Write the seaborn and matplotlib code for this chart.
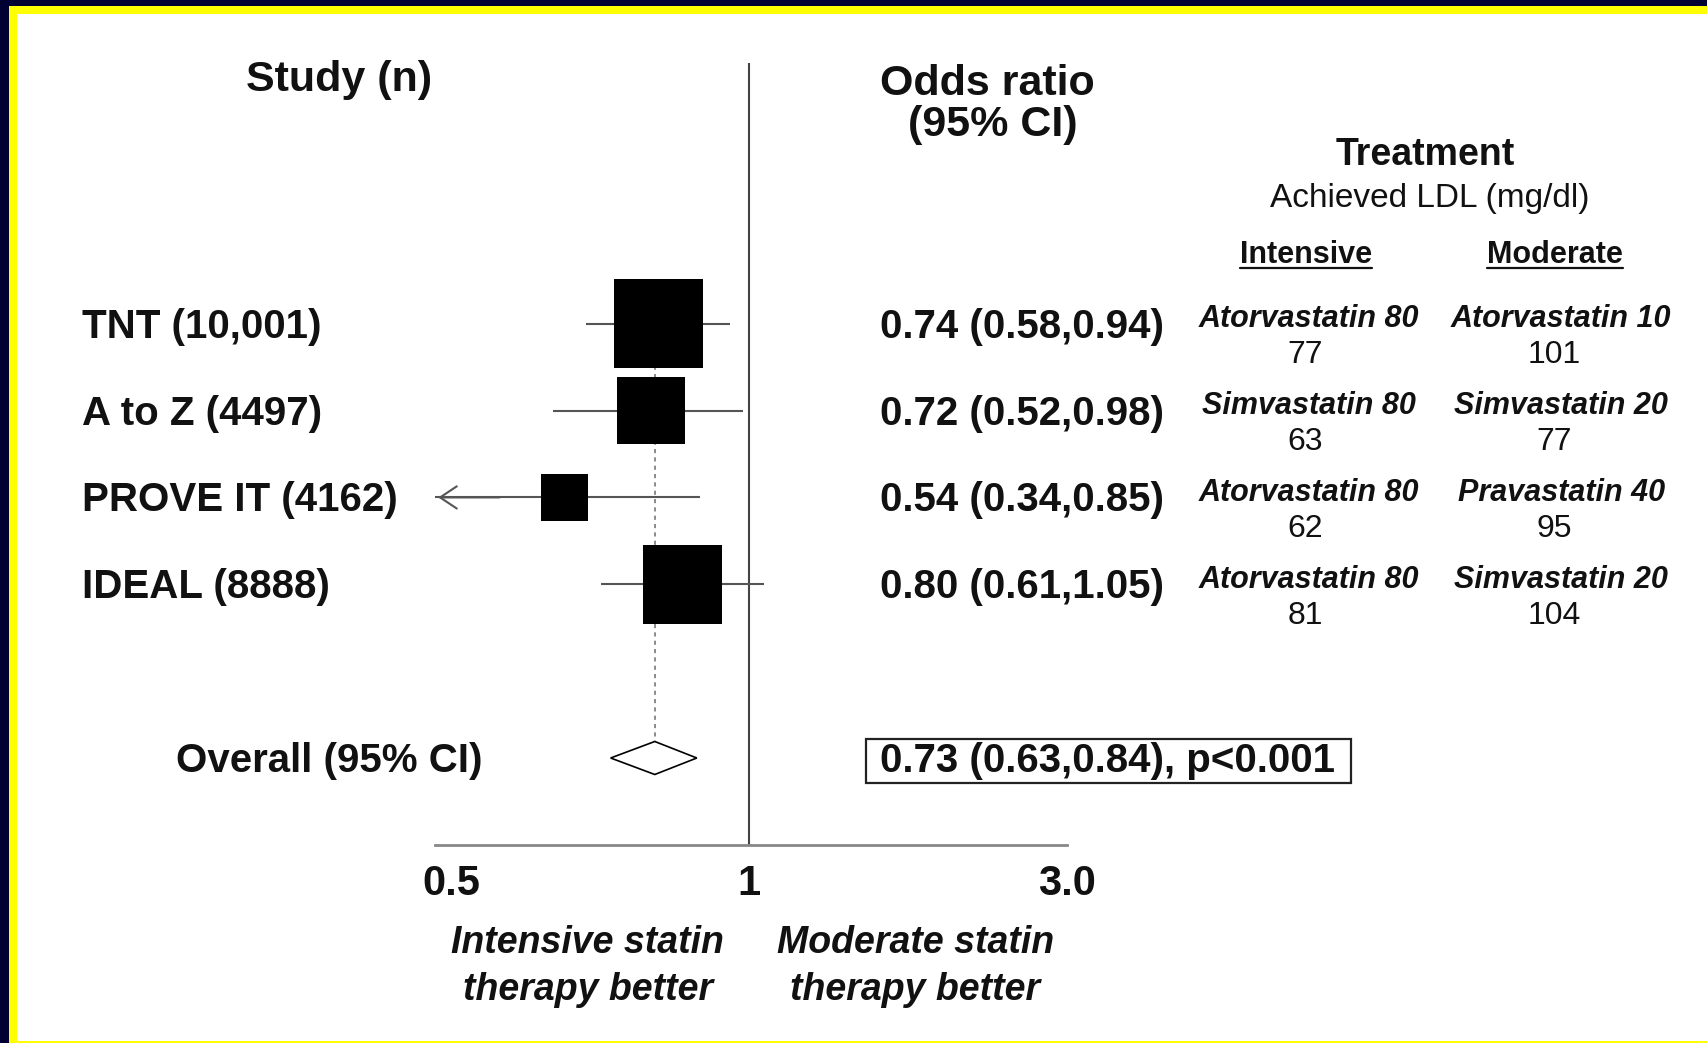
import numpy as np
import pandas as pd
import matplotlib
matplotlib.use("Agg")
import matplotlib.pyplot as plt
import matplotlib.transforms as mtransforms
from matplotlib.patches import Rectangle
from matplotlib.lines import Line2D
from matplotlib.ticker import NullLocator
import seaborn as sns

# ---------------- data ----------------
studies = ["TNT (10,001)", "A to Z (4497)", "PROVE IT (4162)", "IDEAL (8888)"]
odds = [0.74, 0.72, 0.54, 0.80]
ci_low = [0.58, 0.52, 0.34, 0.61]
ci_high = [0.94, 0.98, 0.85, 1.05]
intensive_drug = ["Atorvastatin 80", "Simvastatin 80", "Atorvastatin 80", "Atorvastatin 80"]
intensive_ldl = [77, 63, 62, 81]
moderate_drug = ["Atorvastatin 10", "Simvastatin 20", "Pravastatin 40", "Simvastatin 20"]
moderate_ldl = [101, 77, 95, 104]
overall_or = 0.73
overall_low = 0.63
overall_high = 0.84
overall_p = "p<0.001"
tick_labels = ["0.5", "1", "3.0"]

df = pd.DataFrame({"study": studies, "odds": odds, "lo": ci_low, "hi": ci_high})
df["row"] = np.arange(len(df))
se = (np.log(df["hi"]) - np.log(df["lo"])) / (2 * 1.96)
df["weight"] = 1.0 / se ** 2
overall_row = len(df) + 1

# ---------------- style ----------------
sns.set_theme(style="white")
plt.rcParams["font.family"] = ["Liberation Sans", "DejaVu Sans"]
TXT = "#111111"

fig = plt.figure(figsize=(17.07, 10.43), dpi=100)
fig.patch.set_facecolor("white")

# reference-coordinate helpers (layout measured on a 1568x958 view)
def fx(x):
    return x / 1568.0

def fy(y):
    return 1.0 - (y + 2.5) / 958.0

# frame
FW, FH = 1707.0, 1043.0
navy, yellow = "#000033", "#ffff00"
for (x0, y0, w, h, c) in [
    (0, 1 - 6 / FH, 1, 6 / FH, navy),
    (9 / FW, 1 - 14 / FH, 1 - 9 / FW, 8 / FH, yellow),
    (0, 0, 9 / FW, 1, navy),
    (9 / FW, 0, 8 / FW, 1 - 6 / FH, yellow),
    (9 / FW, 0, 1 - 9 / FW, 2 / FH, yellow),
]:
    fig.add_artist(Rectangle((x0, y0), w, h, transform=fig.transFigure,
                             facecolor=c, edgecolor="none", zorder=10))

# ---------------- forest axes ----------------
ax = fig.add_axes([400 / 1568, 1 - 776 / 958, 580 / 1568, 718 / 958])
ax.patch.set_visible(False)
ax.set_xscale("log")
xlim = (0.351, 2.89)
ax.set_xlim(*xlim)
ax.set_ylim(overall_row + 1, -3)

# reference line at 1 and overall dotted line
ax.axvline(1.0, color="#444444", lw=1.5, zorder=1)
ax.plot([overall_or, overall_or], [df["row"].iloc[0], overall_row],
        color="#777777", lw=1.2, ls=(0, (2.5, 2.5)), zorder=1)

# confidence intervals
ax.hlines(df["row"], np.maximum(df["lo"], xlim[0]), df["hi"],
          color="#555555", lw=1.5, zorder=2)
for _, r in df[df["lo"] < xlim[0]].iterrows():
    ax.annotate("", xy=(xlim[0], r["row"]), xytext=(xlim[0] * 1.25, r["row"]),
                arrowprops=dict(arrowstyle="->,head_length=0.6,head_width=0.4",
                                color="#555555", lw=1.5, mutation_scale=20),
                annotation_clip=False, zorder=2)

# weighted boxes
sns.scatterplot(data=df, x="odds", y="row", size="weight",
                sizes=(0, 4100), size_norm=(0, df["weight"].max()),
                marker="s", color="black", linewidth=0, legend=False,
                ax=ax, zorder=3)

# overall diamond
dh = 0.19
ax.fill([overall_low, overall_or, overall_high, overall_or],
        [overall_row, overall_row - dh, overall_row, overall_row + dh],
        facecolor="white", edgecolor="black", lw=1.2, zorder=3)

# axes cosmetics
ax.set_xlabel("")
ax.set_ylabel("")
ax.set_yticks([])
ax.xaxis.set_minor_locator(NullLocator())
ax.set_xticks([xlim[0], 1.0, xlim[1]])
ax.set_xticklabels(tick_labels, fontsize=30, fontweight="bold", color=TXT)
ax.tick_params(axis="x", length=0, pad=14)
for sp in ["top", "right", "left"]:
    ax.spines[sp].set_visible(False)
ax.spines["bottom"].set_color("#888888")
ax.spines["bottom"].set_linewidth(2)
lbl0 = ax.get_xticklabels()[0]
lbl0.set_transform(lbl0.get_transform() +
                   mtransforms.ScaledTranslation(0.16, 0, fig.dpi_scale_trans))

# ---------------- text columns ----------------
rowT = mtransforms.blended_transform_factory(fig.transFigure, ax.transData)
dy = 0.035  # visual centring of caps on the row

fig.text(fx(311), fy(71), "Study (n)", ha="center", va="center",
         fontsize=31, fontweight="bold", color=TXT)
fig.text(fx(907), fy(75), "Odds ratio", ha="center", va="center",
         fontsize=31, fontweight="bold", color=TXT)
fig.text(fx(912), fy(112), "(95% CI)", ha="center", va="center",
         fontsize=31, fontweight="bold", color=TXT)
fig.text(fx(1309), fy(140), "Treatment", ha="center", va="center",
         fontsize=27, fontweight="bold", color=TXT)
fig.text(fx(1313), fy(180), "Achieved LDL (mg/dl)", ha="center", va="center",
         fontsize=24, color=TXT)
t_int = fig.text(fx(1200), fy(232), "Intensive", ha="center", va="center",
                 fontsize=22, fontweight="bold", color=TXT)
t_mod = fig.text(fx(1428), fy(232), "Moderate", ha="center", va="center",
                 fontsize=22, fontweight="bold", color=TXT)

for _, r in df.iterrows():
    i = int(r["row"])
    y = r["row"] + dy
    ax.text(fx(75), y, r["study"], transform=rowT, ha="left", va="center",
            fontsize=29, fontweight="bold", color=TXT)
    ax.text(fx(808), y, f"{r['odds']:.2f} ({r['lo']:.2f},{r['hi']:.2f})",
            transform=rowT, ha="left", va="center",
            fontsize=29, fontweight="bold", color=TXT)
    ax.text(fx(1202), y - 0.09, intensive_drug[i], transform=rowT,
            ha="center", va="center", fontsize=22, fontweight="bold",
            fontstyle="italic", color=TXT)
    ax.text(fx(1199), y + 0.33, str(intensive_ldl[i]), transform=rowT,
            ha="center", va="center", fontsize=23, color=TXT)
    ax.text(fx(1434), y - 0.09, moderate_drug[i], transform=rowT,
            ha="center", va="center", fontsize=22, fontweight="bold",
            fontstyle="italic", color=TXT)
    ax.text(fx(1428), y + 0.33, str(moderate_ldl[i]), transform=rowT,
            ha="center", va="center", fontsize=23, color=TXT)

ax.text(fx(302), overall_row + dy, "Overall (95% CI)", transform=rowT,
        ha="center", va="center", fontsize=29, fontweight="bold", color=TXT)
t_ov = ax.text(fx(808), overall_row + dy,
               f"{overall_or:.2f} ({overall_low:.2f},{overall_high:.2f}), {overall_p}",
               transform=rowT, ha="left", va="center",
               fontsize=29, fontweight="bold", color=TXT)

fig.text(fx(540), fy(885), "Intensive statin\ntherapy better", ha="center",
         va="center", ma="center", fontsize=27, fontweight="bold",
         fontstyle="italic", linespacing=1.38, color=TXT)
fig.text(fx(841), fy(885), "Moderate statin\ntherapy better", ha="center",
         va="center", ma="center", fontsize=27, fontweight="bold",
         fontstyle="italic", linespacing=1.38, color=TXT)

# underline headers and box the overall estimate
fig.canvas.draw()
renderer = fig.canvas.get_renderer()
inv = fig.transFigure.inverted()
for t in (t_int, t_mod):
    bb = t.get_window_extent(renderer)
    (x0, y0), (x1, _) = inv.transform([(bb.x0, bb.y0 + 2), (bb.x1, bb.y0 + 2)])
    fig.add_artist(Line2D([x0, x1], [y0, y0], transform=fig.transFigure,
                          color=TXT, lw=1.6))
bb = t_ov.get_window_extent(renderer)
(x0, y0), (x1, y1) = inv.transform([(bb.x0 - 14, bb.y0 - 3), (bb.x1 + 16, bb.y1 + 3)])
fig.add_artist(Rectangle((x0, y0), x1 - x0, y1 - y0, transform=fig.transFigure,
                         facecolor="none", edgecolor="#222222", lw=1.6))

fig.savefig("out.png", dpi=100, facecolor=fig.get_facecolor())
